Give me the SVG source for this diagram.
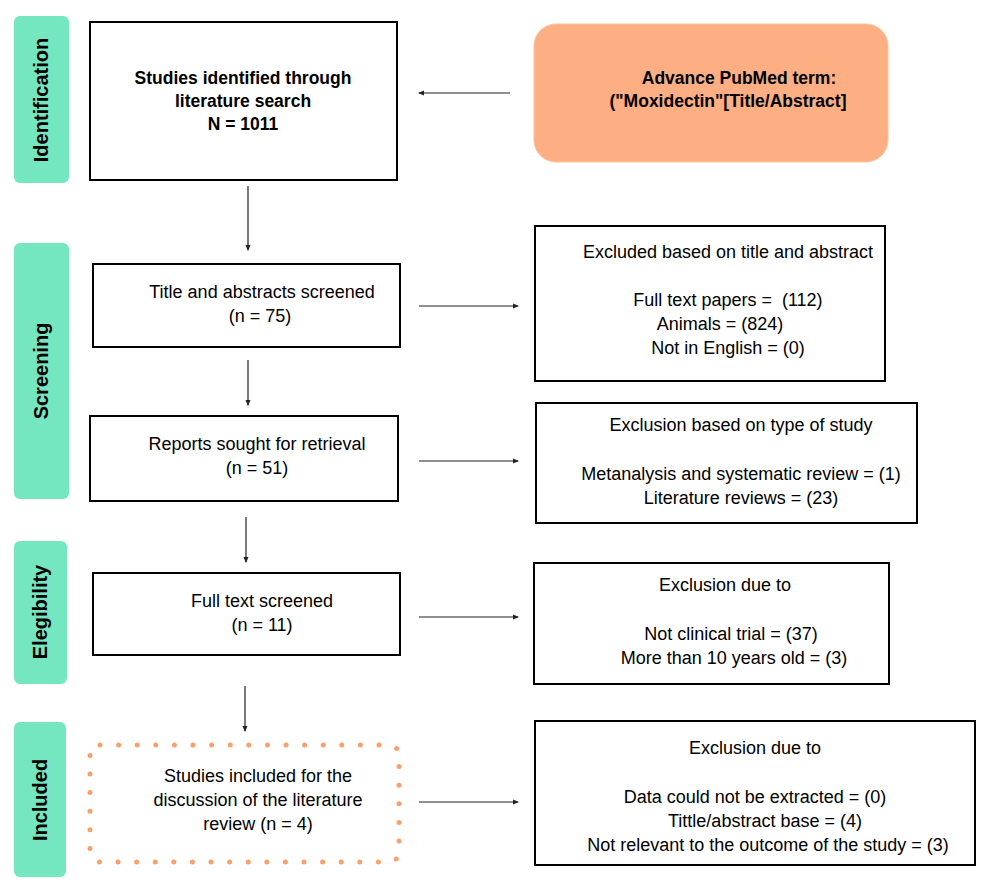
<svg xmlns="http://www.w3.org/2000/svg" width="986" height="893" viewBox="0 0 986 893">
<style>
text{font-family:"Liberation Sans",Arial,sans-serif;fill:#000}
.t{font-size:18px;text-anchor:middle}
.b{font-weight:bold;font-size:17.5px}
.side{fill:#74e6c0}
.st{font-size:20px;font-weight:bold;text-anchor:middle}
.box{fill:#fff;stroke:#000;stroke-width:2}
.c{stroke:#222;stroke-width:1.2;fill:none;marker-end:url(#ah)}
</style>
<defs><marker id="ah" viewBox="0 0 6 6" refX="5" refY="3" markerWidth="6" markerHeight="6" markerUnits="userSpaceOnUse" orient="auto"><path d="M0,0.5L6,3L0,5.5z" fill="#222"/></marker></defs>
<rect width="986" height="893" fill="#fff"/>
<g id="lab-identification"><rect class="side" x="14" y="16" width="55" height="167" rx="6"/><text class="st" transform="translate(48,100) rotate(-90)">Identification</text></g>
<g id="lab-screening"><rect class="side" x="14" y="243" width="55" height="256" rx="6"/><text class="st" transform="translate(48,371) rotate(-90)">Screening</text></g>
<g id="lab-eligibility"><rect class="side" x="14" y="541" width="53" height="143" rx="6"/><text class="st" transform="translate(47,612) rotate(-90)">Elegibility</text></g>
<g id="lab-included"><rect class="side" x="14" y="722" width="52" height="155" rx="6"/><text class="st" transform="translate(47,800) rotate(-90)">Included</text></g>
<g id="n-identified"><rect class="box" x="90" y="22" width="307" height="158"/><text class="t b" x="243" y="84">Studies identified through</text><text class="t b" x="243" y="107">literature search</text><text class="t b" x="243" y="130">N = 1011</text></g>
<g id="n-pubmed"><rect x="534" y="24" width="354" height="138" rx="22" fill="#fdae82" stroke="#f9c3a0"/><text class="t b" x="739" y="84">Advance PubMed term:</text><text class="t b" x="728" y="107">("Moxidectin"[Title/Abstract]</text></g>
<g id="n-screened"><rect class="box" x="93" y="264" width="307" height="83"/><text class="t" x="262" y="298">Title and abstracts screened</text><text class="t" x="260" y="322">(n = 75)</text></g>
<g id="n-reports"><rect class="box" x="90" y="416" width="308" height="85"/><text class="t" x="257" y="450">Reports sought for retrieval</text><text class="t" x="257" y="474">(n = 51)</text></g>
<g id="n-fulltext"><rect class="box" x="93" y="573" width="307" height="82"/><text class="t" x="262" y="607">Full text screened</text><text class="t" x="262" y="631">(n = 11)</text></g>
<g id="n-included"><rect x="90" y="745" width="309" height="117" rx="10" fill="#fff" stroke="#fb9f6b" stroke-width="5" stroke-linecap="round" stroke-dasharray="0 18.6"/><text class="t" x="258" y="782">Studies included for the</text><text class="t" x="258" y="806">discussion of the literature</text><text class="t" x="258" y="830">review (n = 4)</text></g>
<g id="n-excl1"><rect class="box" x="535" y="226" width="350" height="155"/><text class="t" x="728" y="258">Excluded based on title and abstract</text><text class="t" x="728" y="306">Full text papers = &#160;(112)</text><text class="t" x="720" y="330">Animals = (824)</text><text class="t" x="728" y="354">Not in English = (0)</text></g>
<g id="n-excl2"><rect class="box" x="536" y="403" width="381" height="120"/><text class="t" x="741" y="431">Exclusion based on type of study</text><text class="t" x="741" y="480">Metanalysis and systematic review = (1)</text><text class="t" x="741" y="504">Literature reviews = (23)</text></g>
<g id="n-excl3"><rect class="box" x="534" y="563" width="355" height="121"/><text class="t" x="725" y="591">Exclusion due to</text><text class="t" x="731" y="640">Not clinical trial = (37)</text><text class="t" x="734" y="664">More than 10 years old = (3)</text></g>
<g id="n-excl4"><rect class="box" x="535" y="721" width="440" height="144"/><text class="t" x="755" y="754">Exclusion due to</text><text class="t" x="755" y="803">Data could not be extracted = (0)</text><text class="t" x="765" y="827">Tittle/abstract base = (4)</text><text class="t" x="768" y="851">Not relevant to the outcome of the study = (3)</text></g>
<g id="connectors">
<line class="c" x1="510" y1="93" x2="419" y2="93"/>
<line class="c" x1="248" y1="186" x2="248" y2="250"/>
<line class="c" x1="248" y1="360" x2="248" y2="405"/>
<line class="c" x1="246" y1="517" x2="246" y2="562"/>
<line class="c" x1="245" y1="686" x2="245" y2="731"/>
<line class="c" x1="419" y1="306" x2="518" y2="306"/>
<line class="c" x1="419" y1="461" x2="518" y2="461"/>
<line class="c" x1="419" y1="617" x2="518" y2="617"/>
<line class="c" x1="419" y1="802" x2="518" y2="802"/>
</g>
</svg>
